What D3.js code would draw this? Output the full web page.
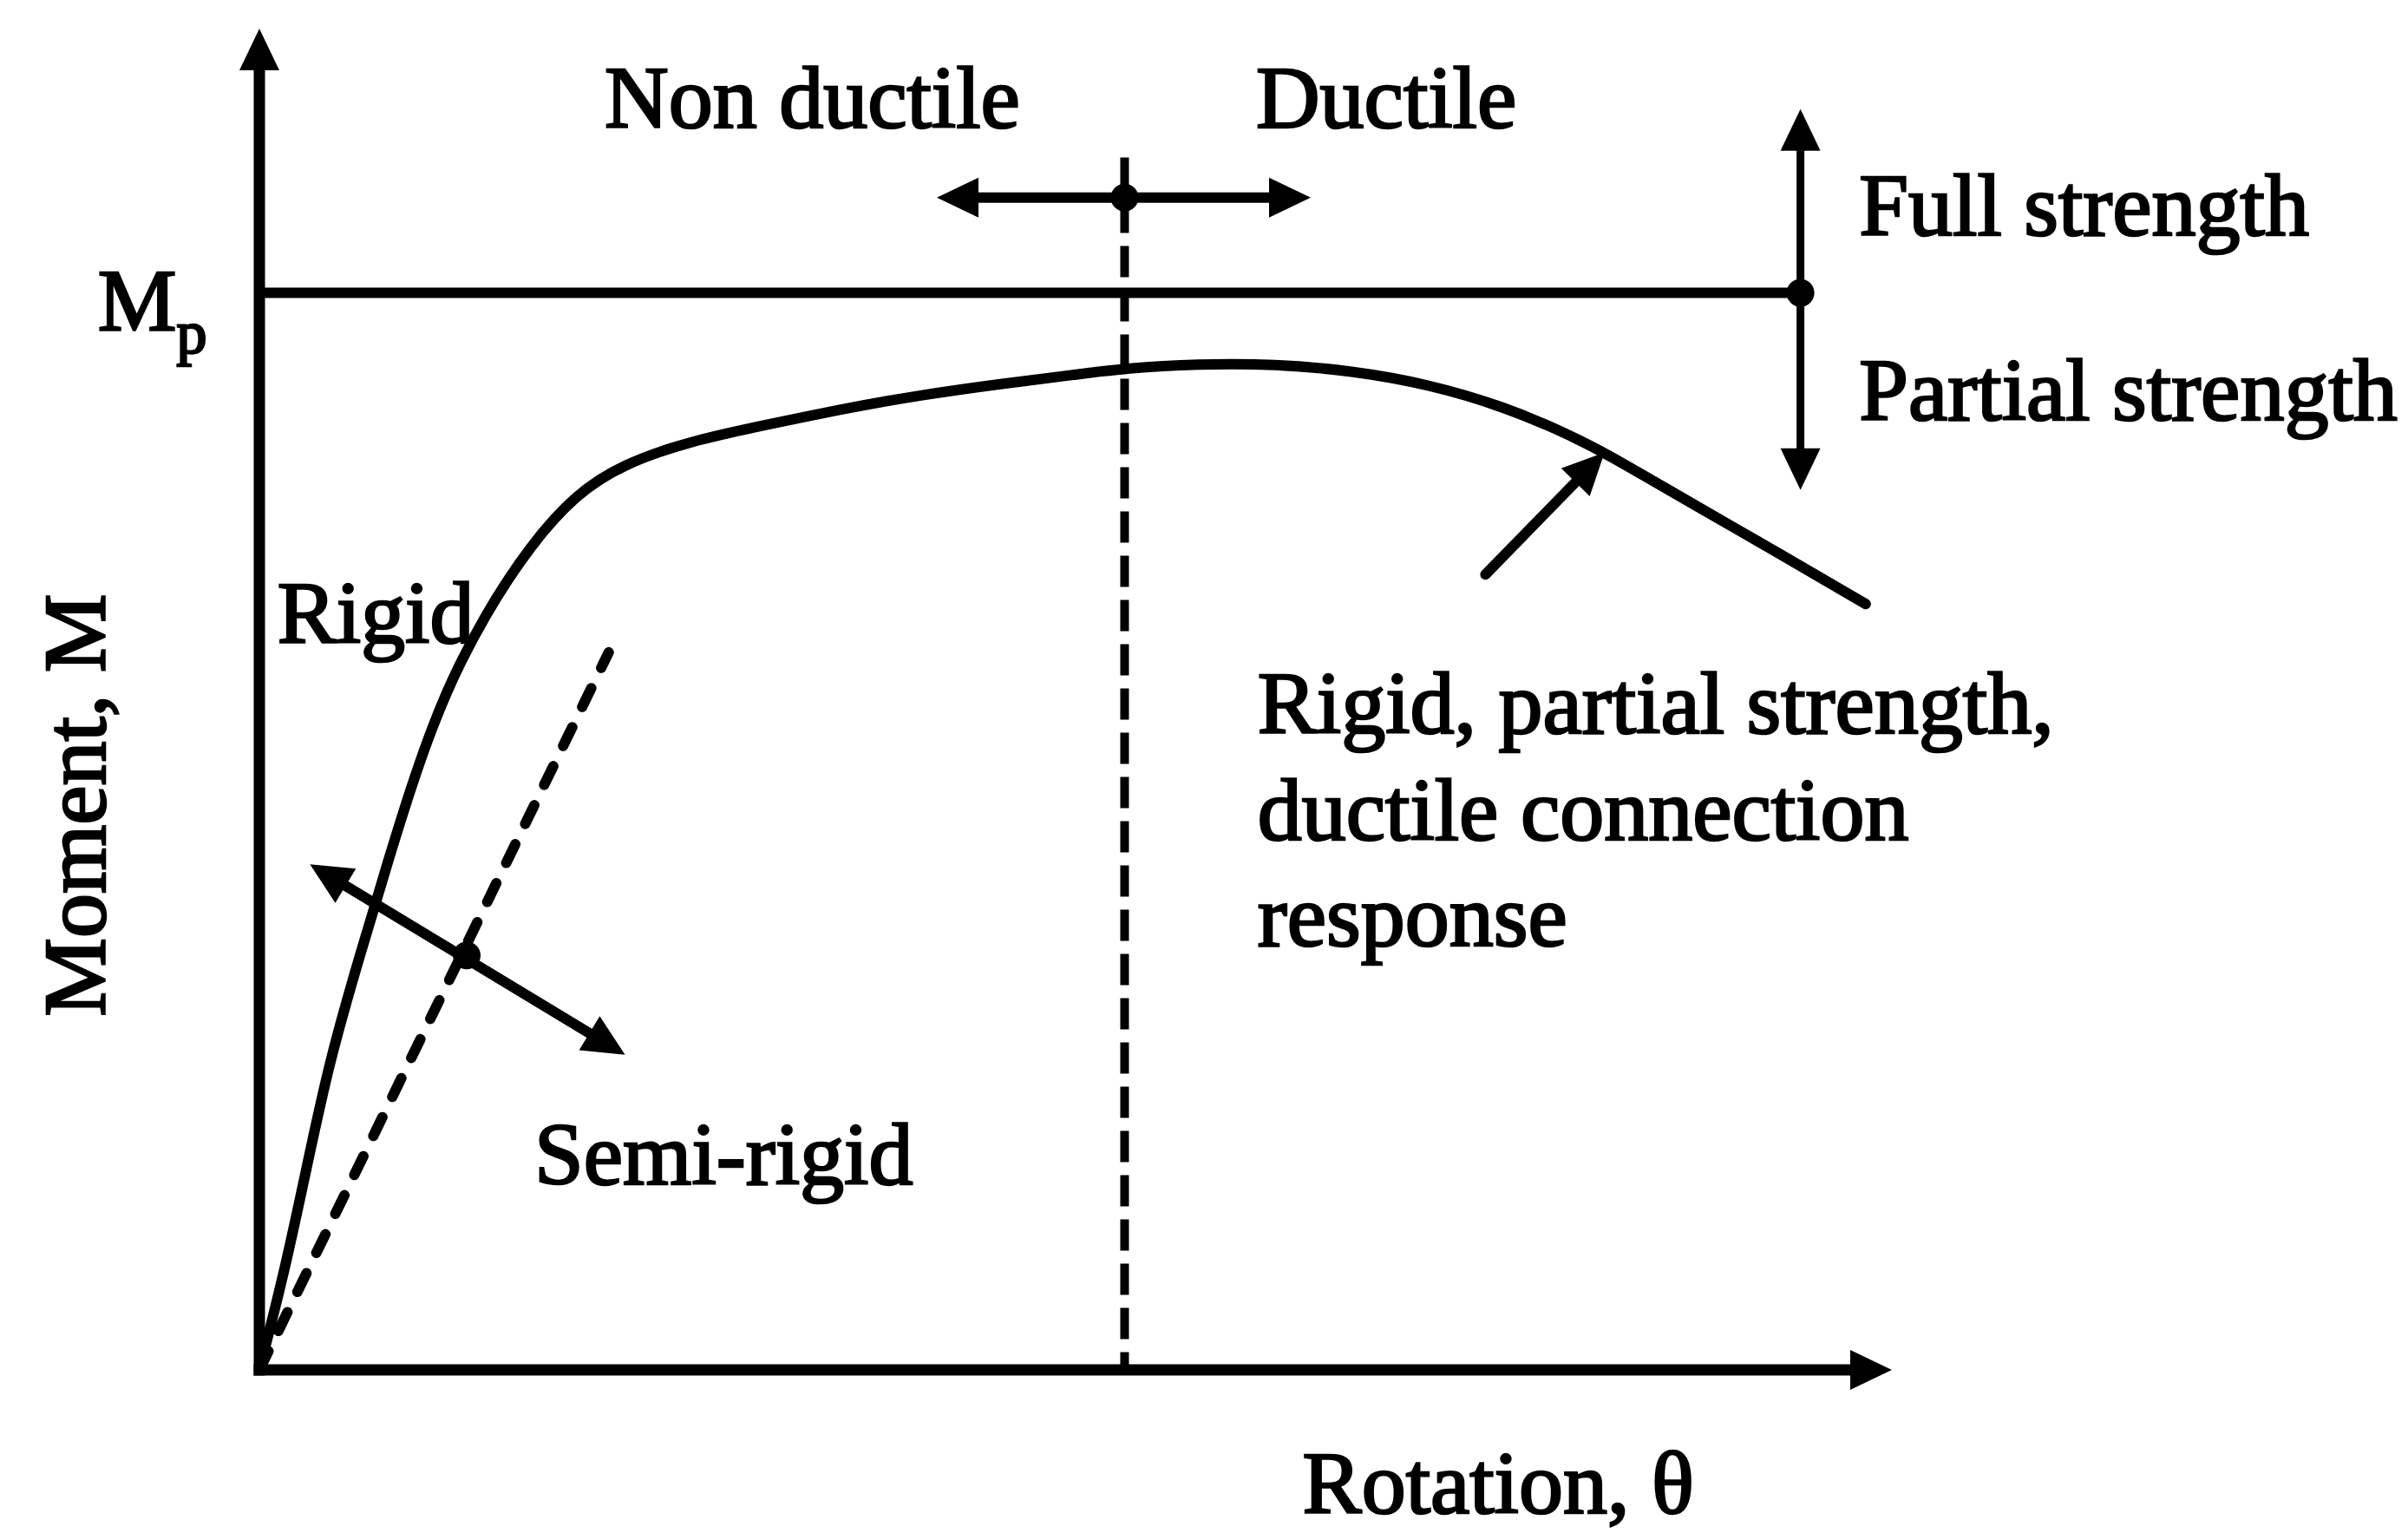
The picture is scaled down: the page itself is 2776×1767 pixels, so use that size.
<!DOCTYPE html>
<html>
<head>
<meta charset="utf-8">
<script src="https://cdn.jsdelivr.net/npm/d3@7"></script>
<style>
  body { margin: 0; background: #fff; }
  text { font-family: "Liberation Serif", "Times New Roman", serif; fill: #000; stroke: #000; stroke-width: 2.6px; }
</style>
</head>
<body>
<div id="chart"></div>
<script>
// moment-rotation curve of a rigid, partial strength, ductile connection
const curveTheta  = [0, 1.5, 2.9, 4.3, 6.2, 7.9, 9.5, 11.4, 13.8, 16.6, 19.4, 22.2, 26.5, 31.2, 35.9, 40.6, 45.3, 50.0, 53.1, 57.5, 62.2, 66.9, 71.6, 76.3, 80.1, 82.4, 87.6, 93.2, 98.4];
const curveMoment = [0, 7.1, 15.1, 23.1, 31.1, 38.0, 44.3, 50.6, 56.3, 61.5, 65.3, 67.5, 69.3, 70.5, 71.7, 72.7, 73.5, 74.2, 74.7, 75.0, 75.0, 74.5, 73.5, 71.8, 69.8, 68.4, 64.7, 60.8, 57.1];

// semi-rigid boundary (dashed)
const semiTheta  = [0, 21.4];
const semiMoment = [0, 53.5];

const plasticMoment = 80.3;   // Mp
const ductileTheta = 53.0;    // ductile / non ductile limit
const ductileTop = 90.4;

// double arrows: [theta0, moment0, theta1, moment1]
const strengthArrow  = [94.4, 65.6, 94.4, 94.0];
const ductileArrow   = [41.5, 87.4, 64.4, 87.4];
const stiffnessArrow = [3.1, 37.7, 22.4, 23.5];
const pointerArrow   = [75.1, 59.3, 82.4, 68.4];
const dots = [[53.0, 87.4], [94.4, 80.3], [12.7, 30.9]];

// labels: text, theta, moment
const labels = [
  ["Non ductile", 21.15, 92.6],
  ["Ductile", 61.05, 92.6],
  ["Full strength", 98.0, 84.6],
  ["Partial strength", 98.0, 70.85],
  ["Rigid", 1.1, 54.2],
  ["Semi-rigid", 16.85, 13.85],
  ["Rigid, partial strength,", 61.15, 47.45],
  ["ductile connection", 61.15, 39.5],
  ["response", 61.15, 31.65],
  ["Rotation, \u03b8", 63.9, -10.7]
];
const yTitle = ["Moment, M", -9.46, 42.1];
const mpLabel = [-9.9, 77.5];

const width = 2776, height = 1767;

const svg = d3.select("#chart")
  .append("svg")
  .attr("width", width)
  .attr("height", height);

svg.append("rect").attr("width", width).attr("height", height).attr("fill", "#fff");

const x = d3.scaleLinear().domain([0, 100]).range([299, 2181]);
const y = d3.scaleLinear().domain([0, 100]).range([1579, 33]);

const g = svg.append("g");

function arrow(a, b, opts) {
  const L = opts.len || 48, W = opts.half || 23;
  const dx = b[0] - a[0], dy = b[1] - a[1];
  const d = Math.hypot(dx, dy), ux = dx / d, uy = dy / d;
  const s = opts.start ? [a[0] + ux * L * 0.7, a[1] + uy * L * 0.7] : a;
  const e = opts.end ? [b[0] - ux * L * 0.7, b[1] - uy * L * 0.7] : b;
  g.append("line")
    .attr("x1", s[0]).attr("y1", s[1]).attr("x2", e[0]).attr("y2", e[1])
    .attr("stroke", "#000").attr("stroke-width", opts.w || 8)
    .attr("stroke-linecap", opts.cap || "butt");
  const head = (tip, vx, vy) => {
    const bx = tip[0] - vx * L, by = tip[1] - vy * L;
    g.append("path")
      .attr("d", `M${tip[0]},${tip[1]}L${bx - vy * W},${by + vx * W}L${bx + vy * W},${by - vx * W}Z`)
      .attr("fill", "#000");
  };
  if (opts.end) head(b, ux, uy);
  if (opts.start) head(a, -ux, -uy);
}

// axes
arrow([x(0), y(0)], [x(0), y(100)], { end: true, w: 13, cap: "square" });
arrow([x(0), y(0)], [x(100), y(0)], { end: true, w: 13, cap: "square" });

// Mp line
g.append("line")
  .attr("x1", x(0)).attr("x2", x(strengthArrow[0]))
  .attr("y1", y(plasticMoment)).attr("y2", y(plasticMoment))
  .attr("stroke", "#000").attr("stroke-width", 12);

// ductility limit
g.append("line")
  .attr("x1", x(ductileTheta)).attr("x2", x(ductileTheta))
  .attr("y1", y(ductileTop)).attr("y2", y(0))
  .attr("stroke", "#000").attr("stroke-width", 10)
  .attr("stroke-dasharray", "36,15");

// semi-rigid boundary
g.append("line")
  .attr("x1", x(semiTheta[0])).attr("y1", y(semiMoment[0]))
  .attr("x2", x(semiTheta[1])).attr("y2", y(semiMoment[1]))
  .attr("stroke", "#000").attr("stroke-width", 12)
  .attr("stroke-dasharray", "24,26")
  .attr("stroke-linecap", "round");

// connection response curve
const pts = curveTheta.map((t, i) => ({ t, m: curveMoment[i] }));
g.append("path")
  .datum(pts)
  .attr("fill", "none")
  .attr("stroke", "#000")
  .attr("stroke-width", 12)
  .attr("stroke-linecap", "round")
  .attr("d", d3.line().x(d => x(d.t)).y(d => y(d.m)).curve(d3.curveBasis));

// double arrows and pointer
const p = a => [[x(a[0]), y(a[1])], [x(a[2]), y(a[3])]];
arrow(...p(strengthArrow), { start: true, end: true, w: 9 });
arrow(...p(ductileArrow), { start: true, end: true, w: 12 });
arrow(...p(stiffnessArrow), { start: true, end: true, w: 12 });
arrow(...p(pointerArrow), { end: true, w: 12, cap: "round" });

g.selectAll(".dot")
  .data(dots)
  .join("circle")
  .attr("class", "dot")
  .attr("cx", d => x(d[0]))
  .attr("cy", d => y(d[1]))
  .attr("r", 16)
  .attr("fill", "#000");

// labels
g.selectAll(".label")
  .data(labels)
  .join("text")
  .attr("class", "label")
  .attr("x", d => x(d[1]))
  .attr("y", d => y(d[2]))
  .attr("font-size", 102)
  .text(d => d[0]);

const mp = g.append("text")
  .attr("x", x(mpLabel[0]))
  .attr("y", y(mpLabel[1]))
  .attr("font-size", 102);
mp.append("tspan").text("M");
mp.append("tspan").attr("font-size", 70).attr("dy", 26).text("p");

g.append("text")
  .attr("transform", `translate(${x(yTitle[1])},${y(yTitle[2])}) rotate(-90)`)
  .attr("text-anchor", "middle")
  .attr("font-size", 102)
  .text(yTitle[0]);
</script>
</body>
</html>
